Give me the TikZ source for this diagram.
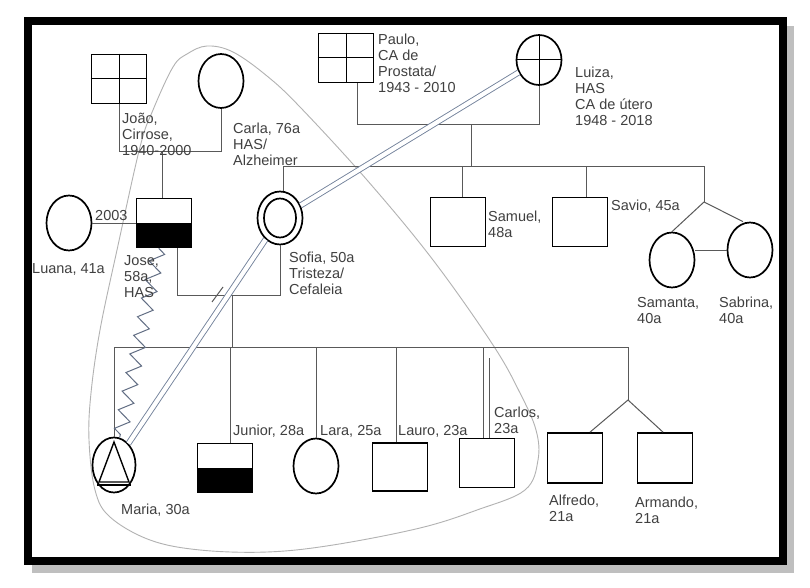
\documentclass[tikz,border=0pt]{standalone}
\usepackage{fontspec}
\setmainfont{Liberation Sans}
\usetikzlibrary{positioning,shapes.geometric,decorations.pathmorphing}
\definecolor{bondblue}{RGB}{115,130,155}

\begin{document}
\begin{tikzpicture}[
  x=1pt, y=-1pt,
  font=\fontsize{14.5}{16}\selectfont,
  male/.style={draw, line width=1.7pt, minimum width=55pt, minimum height=49pt, inner sep=0pt},
  female/.style={draw, ellipse, line width=1.7pt, minimum width=45pt, minimum height=55pt, inner sep=0pt},
  link/.style={draw=black!65, line width=1pt},
  bond/.style={draw=bondblue, double=white, double distance=4.2pt, line width=0.9pt},
  hostile/.style={draw=bondblue!85!black, line width=1pt, decorate, decoration={zigzag, segment length=19pt, amplitude=7pt}},
  tag/.style={anchor=north west, inner sep=0pt, align=left, text=black!75}
]
\useasboundingbox (0,0) rectangle (810,588);
\fill[white] (0,0) rectangle (810,588);
\fill[black!25] (32,26) rectangle (794,573);
\filldraw[fill=white, line width=8pt] (28,21) rectangle (783,561);

% household outline
\draw[gray!60, line width=0.9pt] plot[smooth cycle, tension=0.6] coordinates {(207,46) (233,52) (267,76) (300,107) (367,180) (433,260) (493,345) (520,393) (536,430) (538,460) (525,490) (477,510) (420,528) (333,545) (267,552) (200,550) (150,540) (110,517) (95,490) (89,440) (91,393) (100,330) (117,250) (140,147) (153,110) (173,67) (187,54)};

% first generation
\node[male] (joao) at (119,79) {};
\node[female, minimum height=54pt] (carla) at (221,81) {};
\node[male] (paulo) at (346,58) {};
\node[female, minimum height=50pt] (luiza) at (539,60) {};
\draw[line width=1pt] (joao.north) -- (joao.south) (joao.west) -- (joao.east);
\draw[line width=1pt] (paulo.north) -- (paulo.south) (paulo.west) -- (paulo.east);
\draw[line width=1pt] (luiza.north) -- (luiza.south) (luiza.west) -- (luiza.east);

% second generation
\node[female] (luana) at (69,223) {};
\node[male] (jose) at (164,223) {};
\fill (jose.west) rectangle (jose.south east);
\node[female, minimum height=53pt] (sofia) at (280,218) {};
\node[female, minimum width=32pt, minimum height=39pt] (sofiain) at (sofia.center) {};
\node[male] (samuel) at (458,222) {};
\node[male] (savio) at (580,222) {};
\node[female] (samanta) at (672,260) {};
\node[female] (sabrina) at (750,250) {};

% third generation
\node[female, minimum width=43pt] (maria) at (114,465) {};
\draw[line width=1.4pt] (maria.center) ++(0,-23) -- ++(-15,40) -- ++(30,0) -- cycle;
\draw[line width=1.4pt] (maria.center) ++(-17,20) -- ++(34,0);
\node[male] (junior) at (225,468) {};
\fill (junior.west) rectangle (junior.south east);
\node[female] (lara) at (316,466) {};
\node[male, minimum height=48pt] (lauro) at (400,467) {};
\node[male] (carlos) at (487,463) {};
\node[male, minimum height=50pt] (alfredo) at (575,458) {};
\node[male, minimum height=50pt] (armando) at (665,458) {};

% couples and sibships
\coordinate (jcbar) at (0,152);
\draw[link] (joao.south) -- (joao.south |- jcbar) -| (carla.south);
\draw[link] ([xshift=-2pt]jose.north) -- ([xshift=-2pt]jose.north |- jcbar);

\coordinate (plbar) at (0,125);
\coordinate (plkid) at (471,125);
\coordinate (sib) at (0,167);
\coordinate (twinsf) at (704,202);
\draw[link] ([xshift=11pt]paulo.south) -- ([xshift=11pt]paulo.south |- plbar) -| (luiza.south);
\draw[link] (plkid) -- (plkid |- sib);
\draw[link] ([xshift=3pt]sofia.north) -- ([xshift=3pt]sofia.north |- sib) -- (twinsf |- sib) -- (twinsf);
\draw[link] ([xshift=4pt]samuel.north) -- ([xshift=4pt]samuel.north |- sib);
\draw[link] ([xshift=6pt]savio.north) -- ([xshift=6pt]savio.north |- sib);
\draw[link] (samanta.north) -- (twinsf) -- ([xshift=-7pt]sabrina.north);
\draw[link] (samanta.east |- sabrina.west) -- (sabrina.west);

\draw[link] (luana) -- (jose);

\coordinate (jsbar) at (0,295);
\coordinate (jskid) at (232,295);
\coordinate (kids) at (0,347);
\coordinate (twinsm) at (628,400);
\draw[link] ([xshift=13pt]jose.south) -- ([xshift=13pt]jose.south |- jsbar) -| (sofia.south);
\draw[link] (212,302) -- (223,287);
\draw[link] (jskid) -- (jskid |- kids);
\draw[link] (maria.north |- kids) -- (twinsm |- kids) -- (twinsm);
\draw[link] (maria.north) -- (maria.north |- kids);
\draw[link] ([xshift=5pt]junior.north) -- ([xshift=5pt]junior.north |- kids);
\draw[link] (lara.north) -- (lara.north |- kids);
\draw[link] ([xshift=-4pt]lauro.north) -- ([xshift=-4pt]lauro.north |- kids);
\draw[link] ([xshift=-4pt]carlos.north) -- ([xshift=-4pt]carlos.north |- kids);
\draw[link] ([xshift=2pt]carlos.north) -- ++(0,-80);
\draw[link] ([xshift=15pt]alfredo.north) -- (twinsm) -- ([xshift=-2pt]armando.north);

% emotional ties
\draw[bond] (luiza) -- (sofia);
\draw[bond] (sofia) -- (maria);
\draw[hostile] (jose) -- (maria);

% names
\node[tag] (lbpaulo) at (378,34) {Paulo,\\CA de\\Prostata/\\1943 - 2010};
\node[tag] (lbluiza) at (575,67) {Luiza,\\HAS\\CA de útero\\1948 - 2018};
\node[tag] (lbjoao) at (122,113) {João,\\Cirrose,\\1940-2000};
\node[tag] (lbcarla) at (233,123) {Carla, 76a\\HAS/\\Alzheimer};
\node[tag] (lbyear) at (95,210) {2003};
\node[tag] (lbluana) at (32,263) {Luana, 41a};
\node[tag] (lbjose) at (124,255) {Jose,\\58a,\\HAS};
\node[tag] (lbsofia) at (289,252) {Sofia, 50a\\Tristeza/\\Cefaleia};
\node[tag] (lbsamuel) at (488,211) {Samuel,\\48a};
\node[tag] (lbsavio) at (611,200) {Savio, 45a};
\node[tag] (lbsamanta) at (637,297) {Samanta,\\40a};
\node[tag] (lbsabrina) at (719,297) {Sabrina,\\40a};
\node[tag] (lbjunior) at (233,425) {Junior, 28a};
\node[tag] (lblara) at (320,425) {Lara, 25a};
\node[tag] (lblauro) at (398,425) {Lauro, 23a};
\node[tag] (lbcarlos) at (494,407) {Carlos,\\23a};
\node[tag] (lbmaria) at (121,504) {Maria, 30a};
\node[tag] (lbalfredo) at (549,495) {Alfredo,\\21a};
\node[tag] (lbarmando) at (635,497) {Armando,\\21a};
\end{tikzpicture}
\end{document}
